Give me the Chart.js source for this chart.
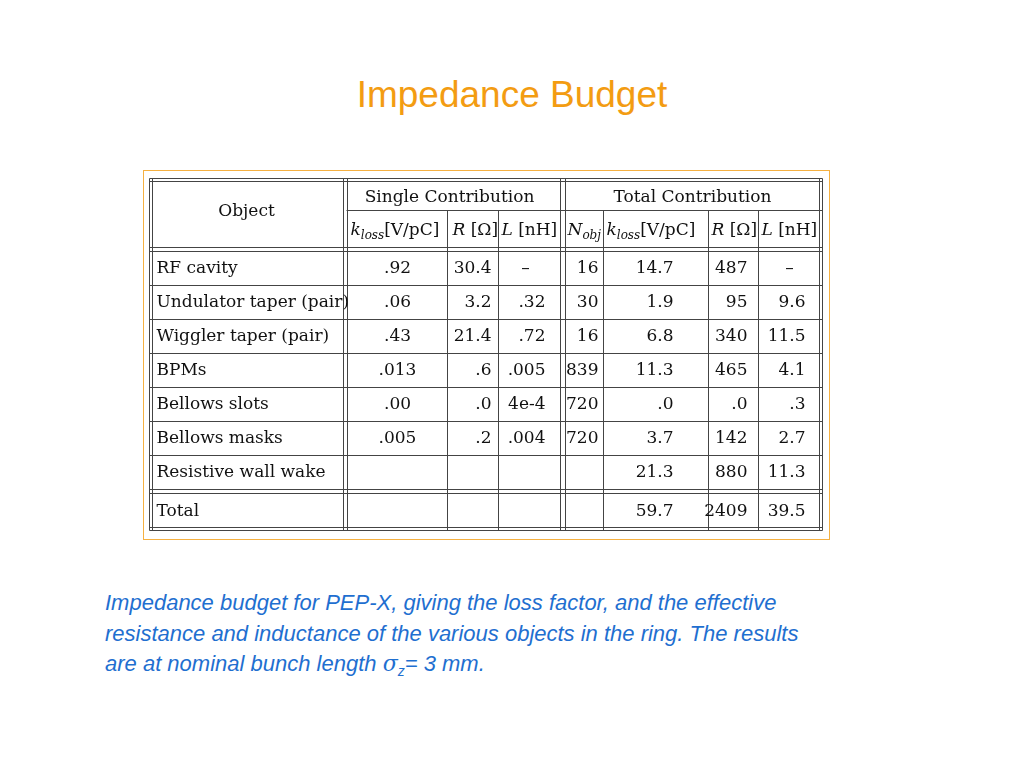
<!DOCTYPE html>
<html><head><meta charset="utf-8">
<script src="https://cdn.jsdelivr.net/npm/chart.js@4.4.0/dist/chart.umd.min.js"></script>
<style>
body{margin:0;width:1024px;height:768px;background:#fff;position:relative;overflow:hidden;font-family:Arial,"Liberation Sans",sans-serif}
#title{position:absolute;top:74px;width:1024px;text-align:center;color:#f39c12;font-size:37px}
#box{position:absolute;left:143px;top:170px;width:685px;height:368px;border:1px solid #f5b041}
#cap{position:absolute;left:105px;top:588px;color:#1f6fd0;font-style:italic;font-size:22px;line-height:30.5px}
canvas{position:absolute;left:0;top:0}
</style></head><body>
<div id="title">Impedance Budget</div>
<div id="box"></div>
<div id="cap">Impedance budget for PEP-X, giving the loss factor, and the effective<br>resistance and inductance of the various objects in the ring. The results<br>are at nominal bunch length <span style="font-family:'DejaVu Serif',serif">σ</span><sub style="font-size:14px">z</sub>= 3 mm.</div>
<div style="position:absolute;left:0;top:0;width:1024px;height:768px"><canvas id="c"></canvas></div>
<script>
const objects = ["RF cavity","Undulator taper (pair)","Wiggler taper (pair)","BPMs","Bellows slots","Bellows masks","Resistive wall wake"];
const singleKloss = [".92",".06",".43",".013",".00",".005",""];
const singleR = ["30.4","3.2","21.4",".6",".0",".2",""];
const singleL = ["–",".32",".72",".005","4e-4",".004",""];
const nObj = ["16","30","16","839","720","720",""];
const totalKloss = ["14.7","1.9","6.8","11.3",".0","3.7","21.3"];
const totalR = ["487","95","340","465",".0","142","880"];
const totalL = ["–","9.6","11.5","4.1",".3","2.7","11.3"];
const totals = ["59.7","2409","39.5"];

const tablePlugin = {
  id: "table",
  afterDraw(chart) {
    const ctx = chart.ctx, xs = chart.scales.x, ys = chart.scales.y;
    const X = v => Math.round(xs.getPixelForValue(v)) + 0.5;
    const Y = v => Math.round(ys.getPixelForValue(v)) + 0.5;
    ctx.save();
    ctx.strokeStyle = "#444"; ctx.lineWidth = 1;
    const h = (y, a, b) => { ctx.beginPath(); ctx.moveTo(X(a), Y(y)); ctx.lineTo(X(b), Y(y)); ctx.stroke(); };
    const v = (x, a, b) => { ctx.beginPath(); ctx.moveTo(X(x), Y(a)); ctx.lineTo(X(x), Y(b)); ctx.stroke(); };
    [0, 3, 69, 73, 311, 315, 349, 352].forEach(y => h(y, 0, 673));
    h(32, 197, 673);
    for (let i = 1; i < 7; i++) h(73 + 34 * i, 0, 673);
    [0, 3, 194, 198, 411, 416, 670, 673].forEach(x => v(x, 0, 352));
    [298, 349, 454, 559, 609].forEach(x => v(x, 32, 352));
    ctx.fillStyle = "#111"; ctx.textBaseline = "middle";
    const font = '17px "DejaVu Serif", serif', ifont = 'italic 17px "DejaVu Serif", serif';
    const txt = (s, x, y, align) => { ctx.font = font; ctx.textAlign = align || "left"; ctx.fillText(s, X(x), Y(y)); };
    ctx.font = font; ctx.textAlign = "center";
    ctx.fillText("Object", X(97), Y(33));
    ctx.fillText("Single Contribution", X(300), Y(19));
    ctx.fillText("Total Contribution", X(543), Y(19));
    // subheaders drawn as runs (text, italic, sub)
    const runs = (parts, x, y) => {
      let px = X(x);
      ctx.textAlign = "left";
      parts.forEach(([s, it, sub]) => {
        ctx.font = sub ? 'italic 12px "DejaVu Serif", serif' : (it ? ifont : font);
        ctx.fillText(s, px, Y(y) + (sub ? 5 : 0));
        px += ctx.measureText(s).width;
      });
    };
    const kl = [["k", 1], ["loss", 1, 1], ["[V/pC]"]];
    runs(kl, 201, 52); runs([["R", 1], [" [Ω]"]], 303, 52); runs([["L", 1], [" [nH]"]], 352, 52);
    runs([["N", 1], ["obj", 1, 1]], 418, 52); runs(kl, 457, 52);
    runs([["R", 1], [" [Ω]"]], 562, 52); runs([["L", 1], [" [nH]"]], 612, 52);
    objects.forEach((o, i) => {
      const y = 73 + 34 * i + 17;
      txt(o, 7, y);
      txt(singleKloss[i], 248, y, "center");
      txt(singleR[i], 342, y, "right");
      txt(singleL[i], singleL[i] === "–" ? 376 : 396, y, singleL[i] === "–" ? "center" : "right");
      txt(nObj[i], 449, y, "right");
      txt(totalKloss[i], 524, y, "right");
      txt(totalR[i], 598, y, "right");
      txt(totalL[i], totalL[i] === "–" ? 640 : 656, y, totalL[i] === "–" ? "center" : "right");
    });
    ctx.font = font; ctx.textAlign = "left"; ctx.fillText("Total", X(7), Y(333));
    txt(totals[0], 524, 333, "right"); txt(totals[1], 598, 333, "right"); txt(totals[2], 656, 333, "right");
    ctx.restore();
  }
};

new Chart(document.getElementById("c").getContext("2d"), {
  type: "scatter",
  data: { datasets: [{ data: [], pointRadius: 0 }] },
  options: {
    responsive: true, maintainAspectRatio: false, animation: false,
    layout: { padding: { left: 149, right: 202, top: 178, bottom: 238 } },
    plugins: { legend: { display: false }, tooltip: { enabled: false } },
    scales: {
      x: { type: "linear", min: 0, max: 673, display: false },
      y: { type: "linear", min: 0, max: 352, reverse: true, display: false }
    }
  },
  plugins: [tablePlugin]
});
</script>
</body></html>
